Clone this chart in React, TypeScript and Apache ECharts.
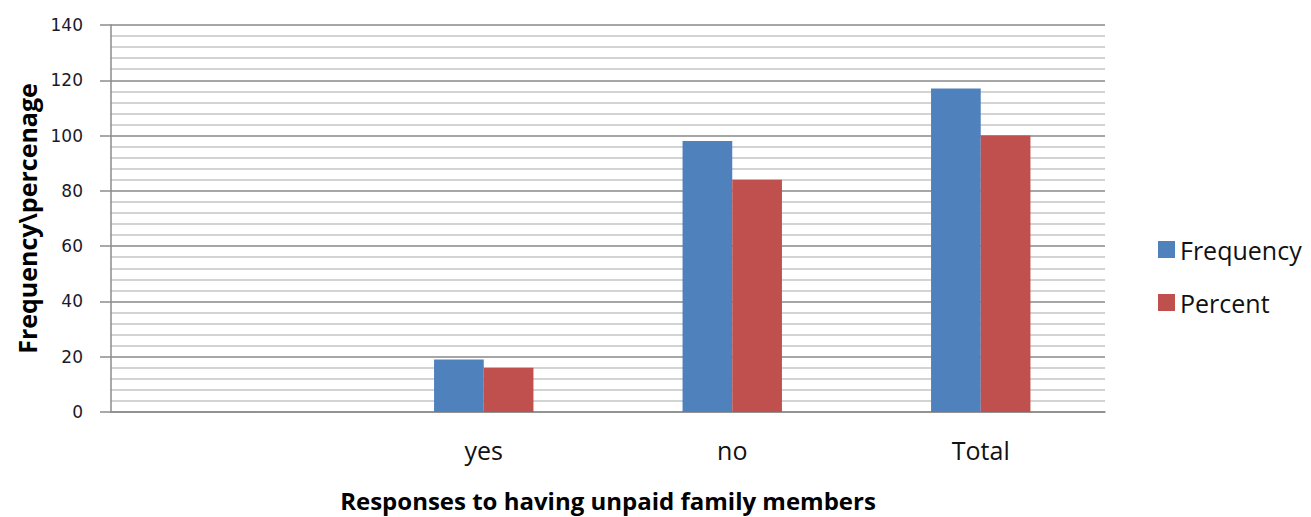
import React, { useEffect, useRef } from "react";
import * as echarts from "echarts";

const categories = ["", "yes", "no", "Total"];
const frequency = [null, 19, 98, 117];
const percent = [null, 16, 84, 100];
const seriesNames = ["Frequency", "Percent"];
const yTicks = { min: 0, max: 140, interval: 20 };

export default function App() {
  const ref = useRef<HTMLDivElement>(null);
  useEffect(() => {
    document.body.style.margin = "0";
    const chart = echarts.init(ref.current!, null, { renderer: "svg" });
    chart.setOption({
      animation: false,
      backgroundColor: "#ffffff",
      grid: { left: 111, right: 206, top: 25, bottom: 105, containLabel: false, outerBoundsMode: "none" },
      legend: {
        orient: "vertical",
        left: 1153,
        top: 232,
        itemWidth: 17,
        itemHeight: 17,
        itemGap: 28,
        icon: "rect",
        textStyle: { fontFamily: "Open Sans", fontSize: 25, lineHeight: 25, color: "#111" },
        data: seriesNames,
      },
      xAxis: {
        type: "category",
        data: categories,
        axisLine: { show: true, lineStyle: { color: "#8c8c8c", width: 1.5 } },
        axisTick: { show: false },
        axisLabel: { fontFamily: "Open Sans", fontSize: 25, color: "#111", margin: 25 },
        name: "Responses to having unpaid family members",
        nameLocation: "middle",
        nameGap: 76,
        nameTextStyle: { fontFamily: "Open Sans", fontSize: 24, fontWeight: "bold", color: "#000" },
      },
      yAxis: {
        type: "value",
        min: yTicks.min,
        max: yTicks.max,
        interval: yTicks.interval,
        axisLine: { show: true, lineStyle: { color: "#8c8c8c", width: 1.5 } },
        axisTick: { show: true, inside: false, length: 11, lineStyle: { color: "#8c8c8c", width: 1.5 } },
        axisLabel: { fontFamily: "DejaVu Sans", fontSize: 17, color: "#1a1a2a", margin: 28 },
        splitLine: { show: true, lineStyle: { color: "#888888", width: 1.5 } },
        minorTick: { show: false, splitNumber: 5 },
        minorSplitLine: { show: true, lineStyle: { color: "#c4c4c4", width: 1.5 } },
        name: "Frequency\\percenage",
        nameLocation: "middle",
        nameGap: 68,
        nameRotate: 90,
        nameTextStyle: { fontFamily: "Open Sans", fontSize: 25, fontWeight: "bold", color: "#000" },
      },
      series: [
        {
          name: seriesNames[0],
          type: "bar",
          data: frequency,
          barGap: "0%",
          barCategoryGap: "60%",
          itemStyle: { color: "#4F81BD" },
        },
        {
          name: seriesNames[1],
          type: "bar",
          data: percent,
          barGap: "0%",
          barCategoryGap: "60%",
          itemStyle: { color: "#C0504D" },
        },
      ],
    });
    return () => chart.dispose();
  }, []);
  return <div ref={ref} style={{ width: 1311, height: 517 }} />;
}
